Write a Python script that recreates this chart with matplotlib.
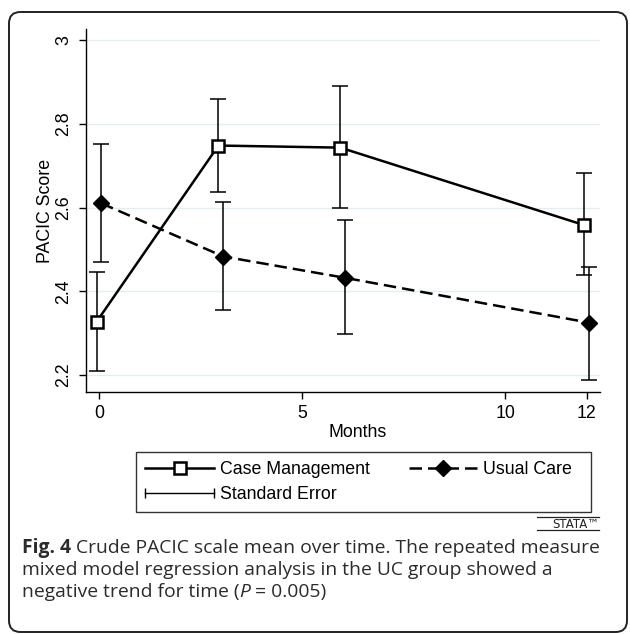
import matplotlib.pyplot as plt
from matplotlib.lines import Line2D
from matplotlib.legend_handler import HandlerLine2D
from matplotlib.patches import FancyBboxPatch

# dados
meses = [0, 3, 6, 12]
cm_media = [2.327, 2.748, 2.743, 2.558]
cm_sup = [2.447, 2.858, 2.889, 2.682]
cm_inf = [2.210, 2.637, 2.600, 2.440]
uc_media = [2.610, 2.483, 2.432, 2.325]
uc_sup = [2.752, 2.612, 2.571, 2.459]
uc_inf = [2.469, 2.355, 2.299, 2.188]

y_ticks = [2.2, 2.4, 2.6, 2.8, 3]
y_ticklabels = ['2.2', '2.4', '2.6', '2.8', '3']
x_ticks = [0, 5, 10, 12]

legenda = ['Case Management', 'Usual Care  ', 'Standard Error']
legenda_fig = 'Fig. 4'
texto_fig = [' Crude PACIC scale mean over time. The repeated measure',
             'mixed model regression analysis in the UC group showed a',
             'negative trend for time (']

plt.rcParams['font.family'] = ['Liberation Sans', 'DejaVu Sans']
fs = 12.8
fs_cap = 13.9

fig = plt.figure(figsize=(6.3, 6.34), dpi=100)
fig.patch.set_facecolor('white')

# moldura arredondada
moldura = FancyBboxPatch((9 / 630, 2 / 634), 618 / 630, 620 / 634,
                         boxstyle='round,pad=0,rounding_size=0.018',
                         transform=fig.transFigure, fill=False,
                         edgecolor='#222222', linewidth=1.4)
fig.patches.append(moldura)

ax = fig.add_axes([85.7 / 630, 1 - 392 / 634, (600 - 85.7) / 630, (392 - 29.3) / 634])

desloc = 0.06
x_cm = [m - desloc for m in meses]
x_uc = [m + desloc for m in meses]

for y in y_ticks:
    ax.axhline(y, color='#e4eef0', linewidth=1.0, zorder=0)

ax.errorbar(x_cm, cm_media,
            yerr=[[m - i for m, i in zip(cm_media, cm_inf)],
                  [s - m for m, s in zip(cm_media, cm_sup)]],
            fmt='none', ecolor='black', elinewidth=1.1, capsize=5.5, capthick=1.1, zorder=2)
ax.errorbar(x_uc, uc_media,
            yerr=[[m - i for m, i in zip(uc_media, uc_inf)],
                  [s - m for m, s in zip(uc_media, uc_sup)]],
            fmt='none', ecolor='black', elinewidth=1.1, capsize=5.5, capthick=1.1, zorder=2)

ax.plot(x_cm, cm_media, '-', color='black', linewidth=1.8, marker='s', markersize=9,
        markerfacecolor='white', markeredgecolor='black', markeredgewidth=1.8, zorder=3)
ax.plot(x_uc, uc_media, '--', color='black', linewidth=1.8, dashes=(5, 2.4), marker='D',
        markersize=8.5, markerfacecolor='black', markeredgecolor='black', zorder=3)

ax.set_xlim(-0.327, 12.33)
ax.set_ylim(2.1594, 3.0256)
ax.set_xticks(x_ticks)
ax.set_yticks(y_ticks)
ax.set_yticklabels(y_ticklabels, rotation=90, va='center')
ax.tick_params(axis='both', direction='out', length=5, width=1, labelsize=fs, pad=4.5)
for lado in ['top', 'right']:
    ax.spines[lado].set_visible(False)
for lado in ['left', 'bottom']:
    ax.spines[lado].set_linewidth(1.0)

ax.set_ylabel('PACIC Score', fontsize=fs, labelpad=1)
ax.set_xlabel('Months', fontsize=fs, labelpad=2)
ax.xaxis.set_label_coords(0.529, -0.087)

h_cm = Line2D([], [], color='black', linewidth=1.8, marker='s', markersize=9,
              markerfacecolor='white', markeredgecolor='black', markeredgewidth=1.8)
h_uc = Line2D([], [], color='black', linewidth=1.8, linestyle='--', dashes=(5, 2.4), marker='D',
              markersize=8.5, markerfacecolor='black')
h_se = Line2D([], [], color='black', linewidth=1.0, marker='|', markersize=7, markeredgewidth=1.0)

leg = fig.legend([h_cm, h_se, h_uc], [legenda[0], legenda[2], legenda[1]], ncol=2,
                 loc='upper left', bbox_to_anchor=(136 / 630, 1 - 452 / 634 - 0.01, 455 / 630, 0.01),
                 mode='expand', borderaxespad=0, fontsize=fs, frameon=True, fancybox=False,
                 edgecolor='black', handlelength=3.9, handletextpad=0.3, borderpad=0.5,
                 labelspacing=0.45, numpoints=1,
                 handler_map={h_se: HandlerLine2D(numpoints=2, marker_pad=0)})
leg.get_frame().set_linewidth(1.0)

# logo
fig.text(599 / 630, 1 - 527.5 / 634, 'STATA™', fontsize=8.5, family='DejaVu Sans',
         ha='right', va='baseline', color='#222222')
for yl in [516.5, 530]:
    fig.add_artist(Line2D([537 / 630, 599 / 630], [1 - yl / 634, 1 - yl / 634],
                          transform=fig.transFigure, color='#222222', linewidth=0.9))

# legenda da figura
cor = '#2b2b2b'
y0 = 1 - 548 / 634
t = fig.text(22 / 630, y0, legenda_fig, fontsize=fs_cap, family='Open Sans',
             fontweight='bold', color=cor, va='center')
fig.canvas.draw()
bb = t.get_window_extent()
fig.text(bb.x1 / 630, y0, texto_fig[0], fontsize=fs_cap, family='Open Sans', color=cor, va='center')
fig.text(22 / 630, 1 - 570 / 634, texto_fig[1], fontsize=fs_cap, family='Open Sans', color=cor, va='center')
t3 = fig.text(22 / 630, 1 - 592 / 634, texto_fig[2], fontsize=fs_cap, family='Open Sans', color=cor, va='center')
fig.canvas.draw()
bb3 = t3.get_window_extent()
t4 = fig.text(bb3.x1 / 630, 1 - 592 / 634, 'P', fontsize=fs_cap, family='Open Sans',
              style='italic', color=cor, va='center')
fig.canvas.draw()
bb4 = t4.get_window_extent()
fig.text(bb4.x1 / 630, 1 - 592 / 634, ' = 0.005)', fontsize=fs_cap, family='Open Sans', color=cor, va='center')

fig.savefig('out.png', dpi=100)
